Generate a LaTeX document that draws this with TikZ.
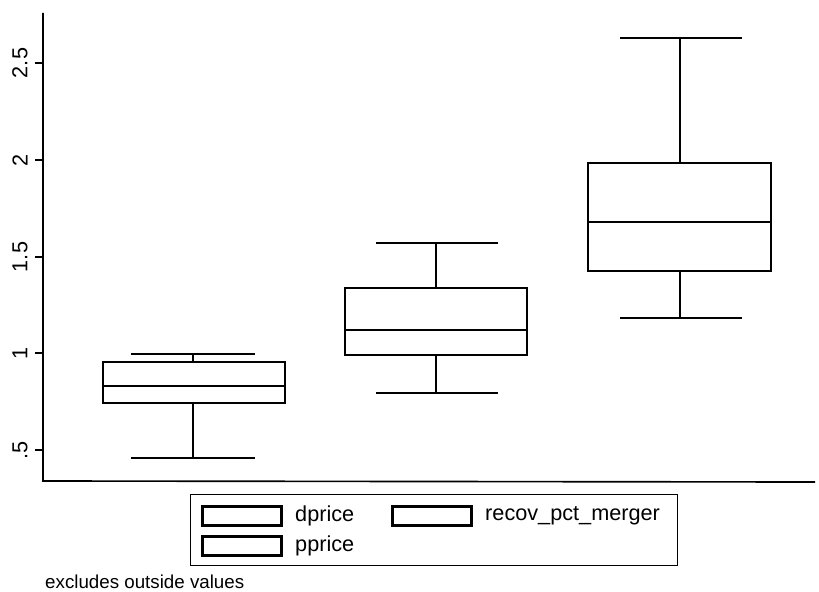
\documentclass[tikz,border=0pt]{standalone}
\usepackage{fontspec}
\setmainfont{Liberation Sans}

\begin{document}
\begin{tikzpicture}[x=0.03cm, y=-0.03cm,
  box/.style={draw, line width=2.4pt},
  whisk/.style={line width=1.6pt},
  tick/.style={line width=1.4pt},
  lbl/.style={font=\fontsize{18.5}{20}\selectfont, inner sep=0pt},
  key/.style={draw, line width=2.4pt, minimum width=2.35cm, minimum height=0.56cm, inner sep=0pt}]
\useasboundingbox (0,0) rectangle (819,591);

% axes
\coordinate (top) at (43,13);
\coordinate (orig) at (43,481);
\coordinate (right) at (815,482);
\draw[tick] (top) -- (orig) -- (right);

% y ticks and labels
\node (t05)[lbl, rotate=90] at (20,450) {.5};
\node (t10)[lbl, rotate=90] at (20,353) {1};
\node (t15)[lbl, rotate=90] at (20,257) {1.5};
\node (t20)[lbl, rotate=90] at (20,160) {2};
\node (t25)[lbl, rotate=90] at (20,63)  {2.5};
\draw[tick] (35,450) -- (43,450);
\draw[tick] (35,353) -- (43,353);
\draw[tick] (35,257) -- (43,257);
\draw[tick] (35,160) -- (43,160);
\draw[tick] (35,63)  -- (43,63);

% dprice
\draw[whisk] (131,354) -- (255,354) (193,354) -- (193,362);
\draw[whisk] (193,403) -- (193,458) (131,458) -- (255,458);
\draw[box] (103,362) rectangle (285,403);
\draw[whisk] (103,386) -- (285,386);

% pprice
\draw[whisk] (376,243) -- (498,243) (436,243) -- (436,288);
\draw[whisk] (436,355) -- (436,393) (376,393) -- (498,393);
\draw[box] (345,288) rectangle (527,355);
\draw[whisk] (345,330) -- (527,330);

% recov_pct_merger
\draw[whisk] (620,38) -- (742,38) (680,38) -- (680,163);
\draw[whisk] (680,271) -- (680,318) (620,318) -- (742,318);
\draw[box] (588,163) rectangle (771,271);
\draw[whisk] (588,222) -- (771,222);

% legend
\draw[line width=0.8pt] (190,494) rectangle (677,565);
\node (k1)[key] at (242,516) {};
\node (k2)[key] at (242,546) {};
\node (k3)[key] at (432,516) {};
\node (l1)[lbl, anchor=west] at (295,516) {dprice};
\node (l2)[lbl, anchor=west] at (295,546) {pprice};
\node (l3)[lbl, anchor=west] at (485,516) {recov\_pct\_merger};

\node (note)[anchor=west, inner sep=0pt, font=\fontsize{16}{18}\selectfont] at (45,582) {excludes outside values};
\end{tikzpicture}
\end{document}
